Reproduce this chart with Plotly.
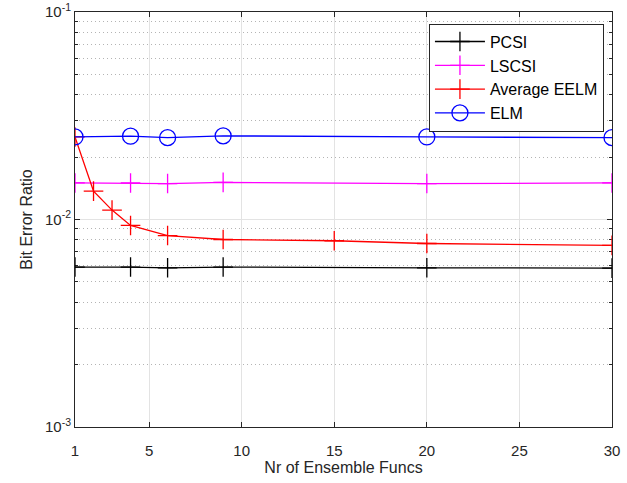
import plotly.graph_objects as go

x_full = [1, 4, 6, 9, 20, 30]
pcsi = [0.0059, 0.0059, 0.00585, 0.0059, 0.00585, 0.00583]
lscsi = [0.0150, 0.0150, 0.0149, 0.0151, 0.0149, 0.0150]
elm = [0.0250, 0.0252, 0.0248, 0.0253, 0.0250, 0.0248]
x_eelm = [1, 2, 3, 4, 6, 9, 15, 20, 30]
eelm = [0.0250, 0.0137, 0.0111, 0.00936, 0.00837, 0.00801, 0.0079, 0.00766, 0.0075]

x_ticks = [1, 5, 10, 15, 20, 25, 30]
y_ticks = [1e-3, 1e-2, 1e-1]
y_ticktext = ["10<sup>-3</sup>", "10<sup>-2</sup>", "10<sup>-1</sup>"]
minor_y = [k * 10 ** e for e in (-3, -2) for k in range(2, 10)]

fig = go.Figure()
cross = dict(symbol="cross-thin-open", size=14, line=dict(width=1.3))
fig.add_trace(go.Scatter(x=x_full, y=pcsi, name="PCSI", mode="lines+markers",
                         line=dict(color="black", width=1.3),
                         marker=dict(color="black", **cross)))
fig.add_trace(go.Scatter(x=x_full, y=lscsi, name="LSCSI", mode="lines+markers",
                         line=dict(color="#ff00ff", width=1.3),
                         marker=dict(color="#ff00ff", **cross)))
fig.add_trace(go.Scatter(x=x_eelm, y=eelm, name="Average EELM", mode="lines+markers",
                         line=dict(color="#ff0000", width=1.3),
                         marker=dict(color="#ff0000", **cross)))
fig.add_trace(go.Scatter(x=x_full, y=elm, name="ELM", mode="lines+markers",
                         line=dict(color="#0000ff", width=1.3),
                         marker=dict(color="#0000ff", symbol="circle-open", size=16,
                                     line=dict(width=1.3))))
# invisible trace on overlay axes: carries minor y grid and offset x tick labels
fig.add_trace(go.Scatter(x=[x_ticks[0]], y=[y_ticks[1]], xaxis="x2", yaxis="y2",
                         mode="markers", marker=dict(opacity=0),
                         showlegend=False, hoverinfo="skip"))

fig.update_layout(
    width=627, height=483,
    margin=dict(l=75, r=15, t=12, b=56),
    paper_bgcolor="white", plot_bgcolor="white",
    font=dict(family="Liberation Sans, Arial, sans-serif", size=15, color="#262626"),
    showlegend=True,
    legend=dict(x=0.985, y=0.972, xanchor="right", yanchor="top",
                bgcolor="white", bordercolor="#262626", borderwidth=1,
                font=dict(size=16, color="black"), tracegroupgap=0,
                itemwidth=50),
    yaxis2=dict(type="log", range=[-3, -1], overlaying="y", side="left",
                anchor="x",
                tickvals=minor_y, ticks="inside", ticklen=3, tickcolor="#262626",
                showticklabels=False, showgrid=True, gridcolor="#b4b4b4",
                griddash="1px,3px", gridwidth=1, mirror="allticks", showline=False,
                zeroline=False, automargin=False, layer="below traces"),
    xaxis2=dict(range=[1, 30], overlaying="x", side="bottom", anchor="y",
                tickvals=x_ticks, ticks="outside", ticklen=10,
                tickcolor="rgba(0,0,0,0)", showgrid=False, showline=False,
                zeroline=False, automargin=False, ticklabeloverflow="allow",
                tickfont=dict(size=15, color="#262626"),
                title=dict(text="Nr of Ensemble Funcs",
                           font=dict(size=16, color="#262626"), standoff=2)),
    xaxis=dict(
        range=[1, 30], tickvals=x_ticks, ticks="inside", ticklen=5,
        tickcolor="#262626", showline=True, linecolor="#262626", linewidth=1,
        mirror="allticks", showgrid=True, gridcolor="#e3e3e3", gridwidth=1,
        zeroline=False, showticklabels=False, automargin=False,
    ),
    yaxis=dict(
        type="log", range=[-3, -1], tickvals=y_ticks, ticktext=y_ticktext,
        ticks="inside", ticklen=5, tickcolor="#262626", showline=True,
        linecolor="#262626", linewidth=1, mirror="allticks", showgrid=True,
        gridcolor="#e3e3e3", gridwidth=1, zeroline=False, automargin=False,
        ticklabeloverflow="allow",
        tickfont=dict(size=15, color="#262626"),
        title=dict(text="Bit Error Ratio", font=dict(size=16, color="#262626"), standoff=8),
    ),
)

fig.write_html("out.html", config={"displayModeBar": False},
               post_script="document.body.style.margin='0';")
